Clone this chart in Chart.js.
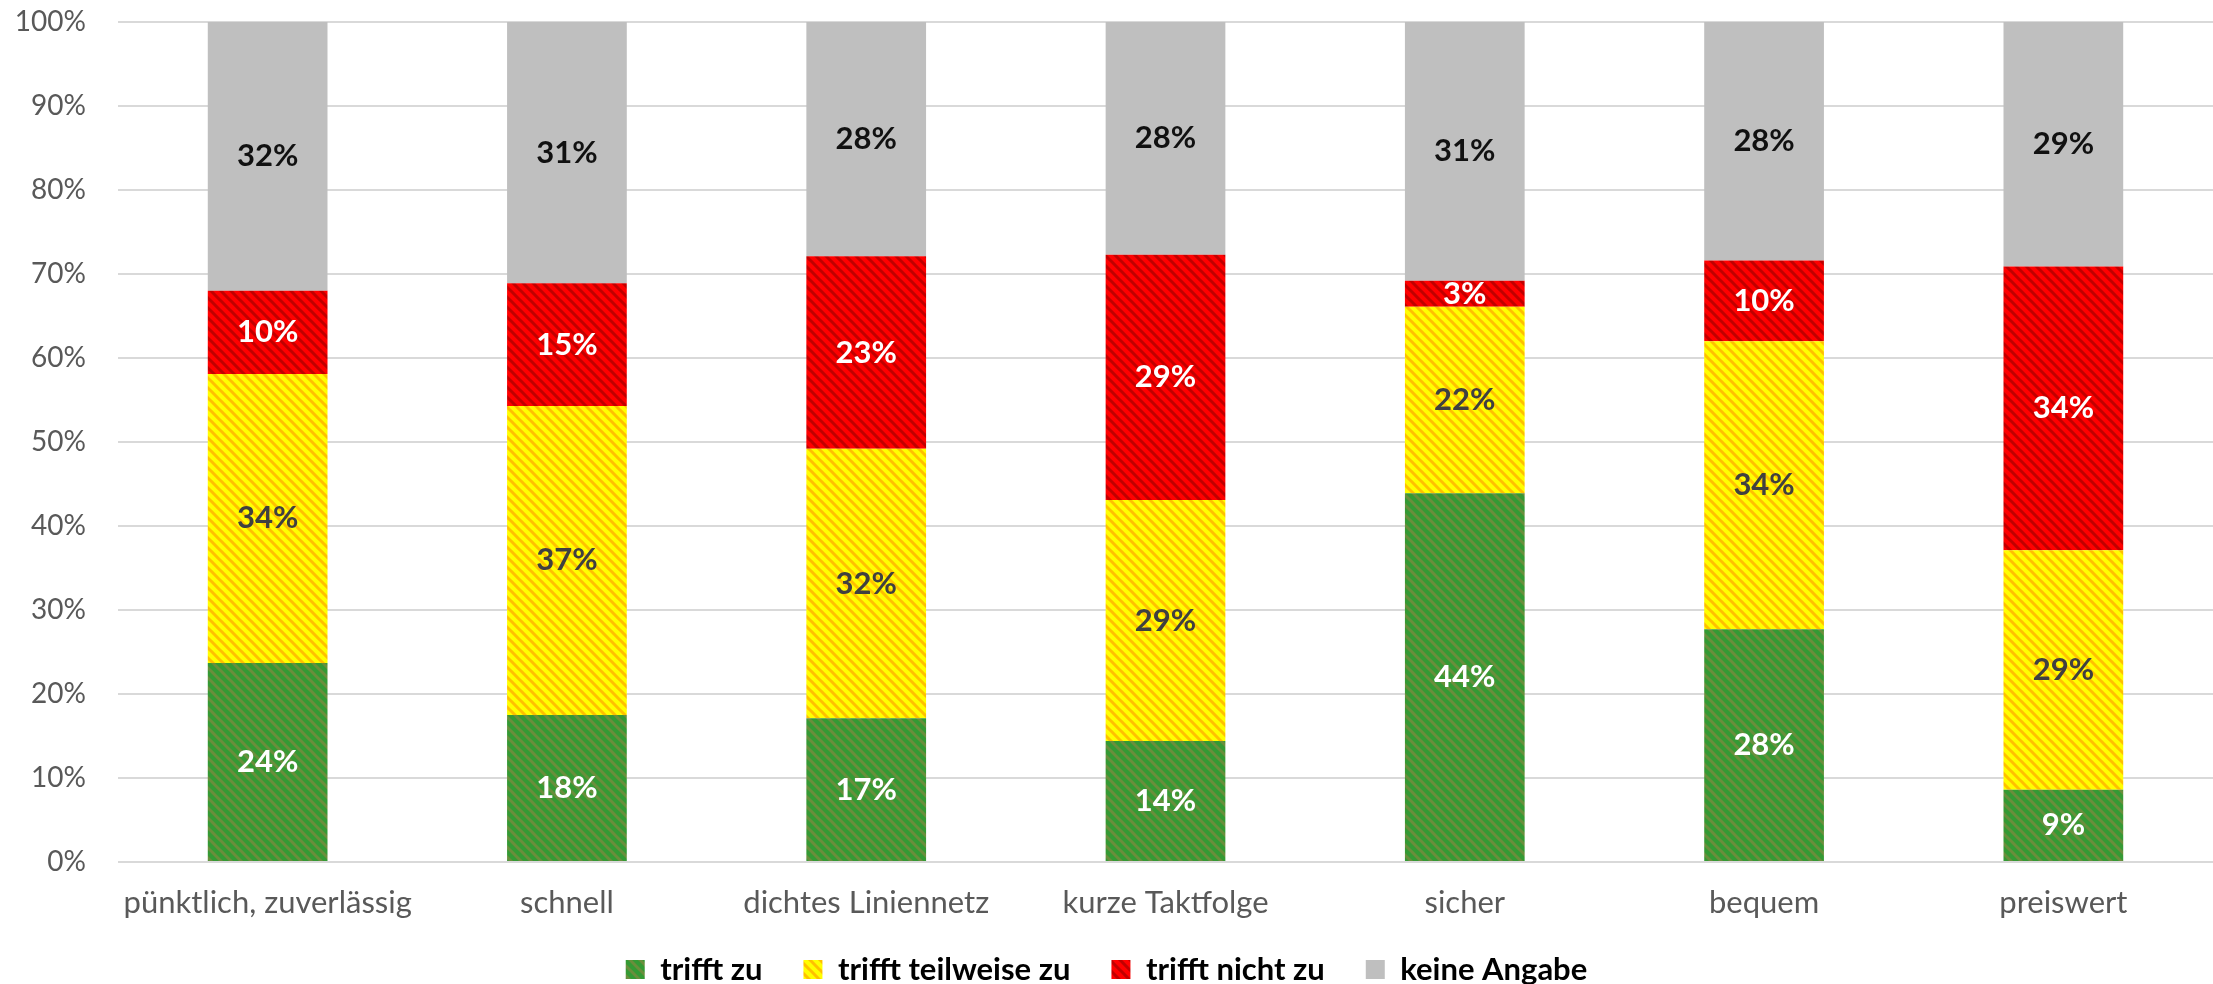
<!DOCTYPE html>
<html lang="de">
<head>
<meta charset="utf-8">
<title>Bewertung ÖPNV</title>
<script src="https://cdn.jsdelivr.net/npm/chart.js@4.4.1/dist/chart.umd.min.js"></script>
<style>
  html, body { margin: 0; padding: 0; background: #fff; overflow: hidden; }
  #wrap { width: 2213px; height: 984px; position: relative; }
</style>
</head>
<body>
<div id="wrap"><canvas id="chart"></canvas></div>
<script>
// Daten (Anteile in %)
const kategorien = ["pünktlich, zuverlässig", "schnell", "dichtes Liniennetz", "kurze Taktfolge", "sicher", "bequem", "preiswert"];
const trifftZu = [23.7, 17.5, 17.1, 14.4, 43.9, 27.7, 8.6];
const trifftTeilweise = [34.4, 36.8, 32.1, 28.7, 22.2, 34.3, 28.5];
const trifftNicht = [9.9, 14.6, 22.9, 29.2, 3.1, 9.6, 33.8];
const keineAngabe = [32.0, 31.1, 27.9, 27.7, 30.8, 28.4, 29.1];
const yTicks = [0, 10, 20, 30, 40, 50, 60, 70, 80, 90, 100];

const FONT = "Lato, 'Noto Sans', sans-serif";

// Schraffur-Muster (diagonale Streifen von links oben nach rechts unten)
function streifen(grund, linie) {
  const size = 10;
  const c = document.createElement("canvas");
  c.width = size;
  c.height = size;
  const g = c.getContext("2d");
  g.fillStyle = grund;
  g.fillRect(0, 0, size, size);
  g.strokeStyle = linie;
  g.lineWidth = 3;
  g.beginPath();
  g.moveTo(-2, -2); g.lineTo(size + 2, size + 2);
  g.moveTo(-2, size - 2); g.lineTo(2, size + 2);
  g.moveTo(size - 2, -2); g.lineTo(size + 2, 2);
  g.stroke();
  return g.createPattern(c, "repeat");
}

const ctx = document.getElementById("chart").getContext("2d");

const musterGruen = streifen("#349a34", "#6a8e3c");
const musterGelb = streifen("#ffff00", "#ffc000");
const musterRot = streifen("#ff0000", "#c00000");

// Prozentwerte mittig in die Segmente schreiben
const wertLabels = {
  id: "wertLabels",
  afterDatasetsDraw(chart) {
    const c = chart.ctx;
    c.save();
    c.font = "bold 31px " + FONT;
    c.textAlign = "center";
    c.textBaseline = "middle";
    chart.data.datasets.forEach((ds, i) => {
      const meta = chart.getDatasetMeta(i);
      if (meta.hidden) return;
      meta.data.forEach((bar, j) => {
        const v = ds.data[j];
        if (!v) return;
        c.fillStyle = ds.labelColor;
        c.fillText(Math.round(v) + "%", bar.x, (bar.y + bar.base) / 2);
      });
    });
    c.restore();
  },
};

new Chart(ctx, {
  type: "bar",
  data: {
    labels: kategorien,
    datasets: [
      { label: "trifft zu", data: trifftZu, backgroundColor: musterGruen, labelColor: "#ffffff" },
      { label: "trifft teilweise zu", data: trifftTeilweise, backgroundColor: musterGelb, labelColor: "#404040" },
      { label: "trifft nicht zu", data: trifftNicht, backgroundColor: musterRot, labelColor: "#ffffff" },
      { label: "keine Angabe", data: keineAngabe, backgroundColor: "#bfbfbf", labelColor: "#111111" },
    ],
  },
  options: {
    responsive: true,
    maintainAspectRatio: false,
    animation: false,
    datasets: {
      bar: { categoryPercentage: 1, barPercentage: 0.4, borderWidth: 0 },
    },
    layout: { padding: { top: 0, right: 0, left: 0, bottom: 0 } },
    plugins: {
      tooltip: { enabled: false },
      legend: {
        position: "bottom",
        maxHeight: 71,
        labels: {
          color: "#000",
          font: { family: FONT, size: 31, weight: "bold" },
          boxWidth: 19,
          boxHeight: 19,
          padding: 41,
        },
      },
    },
    scales: {
      x: {
        stacked: true,
        grid: { display: false, drawTicks: false },
        border: { display: false },
        // mirror + negative Abstand: Beschriftung wird nicht am Achsenrand abgeschnitten
        ticks: { color: "#595959", font: { family: FONT, size: 31 }, mirror: true, padding: -60 },
        afterFit: (scale) => { scale.height = 51; },
      },
      y: {
        stacked: true,
        min: 0,
        max: 100,
        afterBuildTicks: (axis) => {
          axis.ticks = yTicks.map((v) => ({ value: v }));
        },
        grid: { color: "#d9d9d9", lineWidth: 2, drawTicks: false },
        border: { display: false },
        ticks: {
          color: "#595959",
          font: { family: FONT, size: 28 },
          padding: 32,
          callback: (v) => v + "%",
        },
        afterFit: (scale) => {
          scale.width = 118;
          scale.paddingTop = 22;
          scale.paddingBottom = 0;
        },
      },
    },
  },
  plugins: [wertLabels],
});
</script>
</body>
</html>
